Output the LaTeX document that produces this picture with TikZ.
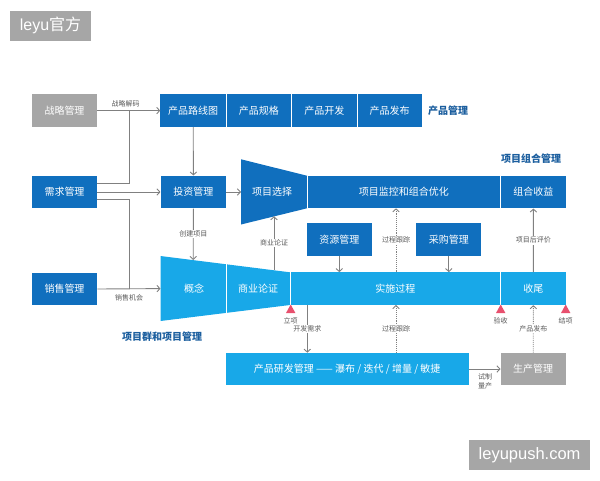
\documentclass[tikz,border=0pt]{standalone}
\usepackage{fontspec}
\setmainfont{Noto Sans CJK SC}
\newfontfamily\wmfont{Liberation Sans}
\usetikzlibrary{arrows.meta}
\definecolor{dblue}{RGB}{16,111,190}
\definecolor{lblue}{RGB}{24,168,232}
\definecolor{gboxc}{RGB}{166,166,166}
\definecolor{ttl}{RGB}{27,94,158}
\definecolor{lnc}{RGB}{128,128,128}
\definecolor{lbl}{RGB}{90,90,90}
\definecolor{tric}{RGB}{232,80,110}
\begin{document}
\begin{tikzpicture}[x=1pt,y=-1pt,
  box/.style={minimum width=65.5pt,minimum height=32.6pt,inner sep=0pt,text=white,font=\fontsize{10}{12}\selectfont},
  dbox/.style={box,fill=dblue},
  lbox/.style={box,fill=lblue},
  gbx/.style={box,fill=gboxc},
  txt/.style={text=white,inner sep=0pt,font=\fontsize{10}{12}\selectfont},
  sep/.style={draw=white,line width=1pt},
  con/.style={draw=lnc,line width=0.9pt},
  arr/.style={con,-{Straight Barb[length=3pt,width=6.5pt]}},
  darr/.style={arr,densely dotted},
  lab/.style={fill=white,inner sep=1pt,text=lbl,font=\fontsize{7}{8.7}\selectfont,align=center},
  ttlf/.style={text=ttl,inner sep=0pt,font=\fontsize{10}{12}\selectfont\bfseries},
  wm/.style={fill=gboxc,text=white,inner sep=0pt}
]
\useasboundingbox (0,0) rectangle (600,480);

% watermarks
\node[wm,minimum width=81pt,minimum height=30pt,font=\fontsize{16}{18}\selectfont] (wm1) at (50.5,25.5) {{\wmfont leyu}官方};
\node[wm,minimum width=120.7pt,minimum height=30pt,font=\wmfont\fontsize{16.5}{19}\selectfont] (wm2) at (529.6,455) {leyupush.com};

% left column
\node[gbx] (zl) at (64.5,110.6) {战略管理};
\node[dbox] (xq) at (64.5,192) {需求管理};
\node[dbox] (xs) at (64.5,289) {销售管理};

% product row
\node[dbox] (p1) at (193.2,110.6) {产品路线图};
\node[dbox] (p2) at (258.8,110.6) {产品规格};
\node[dbox] (p3) at (324.3,110.6) {产品开发};
\node[dbox] (p4) at (389.5,110.6) {产品发布};
\draw[sep] (226,94.3) -- (226,127);
\draw[sep] (291.6,94.3) -- (291.6,127);
\draw[sep] (357,94.3) -- (357,127);
\node[ttlf,anchor=west] (cpgl) at (428,110.6) {产品管理};

% portfolio row
\node[dbox] (tz) at (193.4,192) {投资管理};
\fill[dblue] (241,159.3) -- (307,175.7) -- (307,208.3) -- (241,224.5) -- cycle;
\node[txt] (xz) at (272,192) {项目选择};
\node[dbox,minimum width=193.7pt] (jk) at (403.8,192) {项目监控和组合优化};
\node[dbox,minimum width=65.3pt] (zh) at (533.4,192) {组合收益};
\draw[sep] (307,175.7) -- (307,208.3);
\draw[sep] (500.7,175.7) -- (500.7,208.3);
\node[ttlf] (zhgl) at (531,158.5) {项目组合管理};

\node[dbox,minimum width=65.3pt] (zy) at (339.3,239.7) {资源管理};
\node[dbox,minimum width=65pt] (cg) at (448.8,239.7) {采购管理};

% project row
\fill[lblue] (160.5,256) -- (290,272.3) -- (290,305) -- (160.5,321) -- cycle;
\node[txt] (gn) at (194,288.6) {概念};
\node[txt] (sy) at (258,288.6) {商业论证};
\node[lbox,minimum width=210.7pt] (ss) at (395.35,288.65) {实施过程};
\node[lbox,minimum width=65.3pt] (sw) at (533.35,288.65) {收尾};
\draw[sep] (226,264.1) -- (226,312.9);
\draw[sep] (290,272.3) -- (290,305);
\draw[sep] (500.7,272.3) -- (500.7,305);
\node[ttlf] (xmq) at (162,336.7) {项目群和项目管理};

% milestones
\foreach \x/\t/\n in {290.7/立项/m1, 500.7/验收/m2, 565.7/结项/m3}{
  \fill[tric] (\x,304.5) -- (\x-4.7,313) -- (\x+4.7,313) -- cycle;
  \node[lab,fill=none] (\n) at (\x,320.5) {\t};
}

% bottom row
\node[lbox,minimum width=243pt] (yf) at (347.2,369) {产品研发管理 —— 瀑布 / 迭代 / 增量 / 敏捷};
\node[gbx,minimum width=65pt] (sc) at (533.2,369) {生产管理};

% coordinates
\coordinate (j1) at (129,110.6);
\coordinate (j2) at (129,289);
\coordinate (xzL) at (241,192);
\coordinate (gnT) at (193.2,260);
\coordinate (syT) at (274,270.2);
\coordinate (xzB) at (274,216.2);

% connectors
\draw[arr] (zl.east) -- (p1.west) node[lab,fill=none,pos=0.45,above=2pt] {战略解码};
\draw[con] ([yshift=8.7pt]xq.east) -| (j1);
\draw[arr] (xq.east) -- (tz.west);
\draw[con] ([yshift=-7.3pt]xq.east) -| (j2);
\draw[arr] (xs.east) -- (gn.west -| 160.5,0);
\node[lab,fill=none] (lxs) at (129,297.5) {销售机会};
\draw[arr] (p1.south) -- (tz.north);
\draw[arr] (tz.east) -- (xzL);
\draw[arr] (tz.south) -- (gnT) node[lab,midway] {创建项目};
\draw[arr] (syT) -- (xzB) node[lab,midway] {商业论证};
\draw[arr] (zy.south) -- (zy.south |- ss.north);
\draw[arr] (cg.south) -- (cg.south |- ss.north);
\draw[darr] (396,272.3) -- (396,208.3) node[lab,midway] {过程跟踪};
\draw[arr] (sw.north) -- (zh.south) node[lab,midway] {项目后评价};
\draw[arr] (307.3,305) -- (307.3,352.7) node[lab,midway] {开发需求};
\draw[darr] (396,352.7) -- (396,305) node[lab,midway] {过程跟踪};
\draw[darr] (sc.north) -- (sw.south) node[lab,midway] {产品发布};
\draw[arr] (yf.east) -- (sc.west);
\node[lab,fill=none] (lsz) at (485,381.5) {试制\\量产};
\end{tikzpicture}
\end{document}
